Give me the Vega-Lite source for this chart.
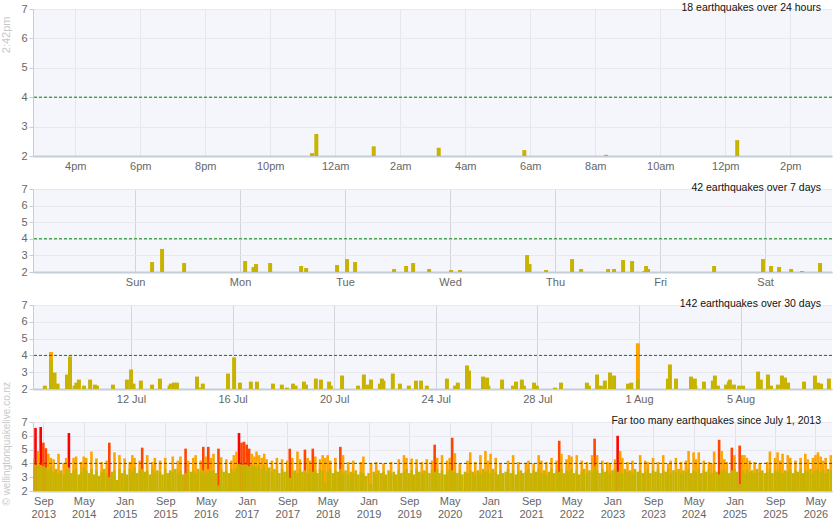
{
  "$schema": "https://vega.github.io/schema/vega-lite/v6.json",
  "background": "white",
  "padding": {"left": 0, "top": 2, "right": 0, "bottom": 0},
  "datasets": {
    "p1": [
      {"t": "2026-08-07T23:17", "m": 2.1},
      {"t": "2026-08-07T23:25", "m": 2.75},
      {"t": "2026-08-08T01:11", "m": 2.33},
      {"t": "2026-08-08T03:11", "m": 2.28},
      {"t": "2026-08-08T05:49", "m": 2.2},
      {"t": "2026-08-08T08:20", "m": 2.04},
      {"t": "2026-08-08T12:22", "m": 2.54}
    ],
    "p2": [
      {"t": "2026-08-02T03:53", "m": 2.6},
      {"t": "2026-08-02T06:10", "m": 3.39},
      {"t": "2026-08-02T11:12", "m": 2.54},
      {"t": "2026-08-03T01:09", "m": 2.66},
      {"t": "2026-08-03T03:39", "m": 2.48},
      {"t": "2026-08-03T03:04", "m": 2.3},
      {"t": "2026-08-03T06:52", "m": 2.54},
      {"t": "2026-08-03T13:57", "m": 2.36},
      {"t": "2026-08-03T15:06", "m": 2.24},
      {"t": "2026-08-03T22:10", "m": 2.42},
      {"t": "2026-08-04T00:27", "m": 2.78},
      {"t": "2026-08-04T02:17", "m": 2.6},
      {"t": "2026-08-04T11:12", "m": 2.18},
      {"t": "2026-08-04T13:57", "m": 2.36},
      {"t": "2026-08-04T15:33", "m": 2.54},
      {"t": "2026-08-04T19:12", "m": 2.18},
      {"t": "2026-08-05T00:14", "m": 2.12},
      {"t": "2026-08-05T02:17", "m": 2.12},
      {"t": "2026-08-05T17:36", "m": 3.02},
      {"t": "2026-08-05T18:10", "m": 2.48},
      {"t": "2026-08-05T21:57", "m": 2.12},
      {"t": "2026-08-06T03:53", "m": 2.78},
      {"t": "2026-08-06T05:57", "m": 2.18},
      {"t": "2026-08-06T12:07", "m": 2.18},
      {"t": "2026-08-06T13:29", "m": 2.18},
      {"t": "2026-08-06T15:33", "m": 2.72},
      {"t": "2026-08-06T17:36", "m": 2.66},
      {"t": "2026-08-06T20:48", "m": 2.36},
      {"t": "2026-08-06T20:27", "m": 2.06},
      {"t": "2026-08-06T21:15", "m": 2.18},
      {"t": "2026-08-07T12:21", "m": 2.36},
      {"t": "2026-08-07T23:32", "m": 2.78},
      {"t": "2026-08-08T01:22", "m": 2.36},
      {"t": "2026-08-08T03:12", "m": 2.3},
      {"t": "2026-08-08T05:57", "m": 2.18},
      {"t": "2026-08-08T08:27", "m": 2.06},
      {"t": "2026-08-08T12:34", "m": 2.54}
    ],
    "p3": [
      {"t": "2026-07-08T14:38", "m": 2.2},
      {"t": "2026-07-08T20:24", "m": 4.2},
      {"t": "2026-07-08T20:24", "m": 3.76},
      {"t": "2026-07-08T23:45", "m": 2.98},
      {"t": "2026-07-09T02:38", "m": 2.32},
      {"t": "2026-07-09T11:31", "m": 2.86},
      {"t": "2026-07-09T14:24", "m": 3.94},
      {"t": "2026-07-09T18:43", "m": 2.2},
      {"t": "2026-07-09T20:24", "m": 2.38},
      {"t": "2026-07-09T22:48", "m": 2.56},
      {"t": "2026-07-10T03:36", "m": 2.2},
      {"t": "2026-07-10T09:22", "m": 2.56},
      {"t": "2026-07-10T13:55", "m": 2.26},
      {"t": "2026-07-10T15:50", "m": 2.2},
      {"t": "2026-07-11T06:58", "m": 2.26},
      {"t": "2026-07-11T20:10", "m": 2.56},
      {"t": "2026-07-12T00:05", "m": 3.16},
      {"t": "2026-07-12T02:24", "m": 2.32},
      {"t": "2026-07-12T09:22", "m": 2.5},
      {"t": "2026-07-12T19:55", "m": 2.26},
      {"t": "2026-07-13T03:22", "m": 2.62},
      {"t": "2026-07-13T12:29", "m": 2.2},
      {"t": "2026-07-13T13:41", "m": 2.32},
      {"t": "2026-07-13T16:34", "m": 2.38},
      {"t": "2026-07-13T19:26", "m": 2.38},
      {"t": "2026-07-14T14:24", "m": 2.74},
      {"t": "2026-07-14T17:17", "m": 2.08},
      {"t": "2026-07-14T19:55", "m": 2.32},
      {"t": "2026-07-15T19:41", "m": 2.92},
      {"t": "2026-07-16T01:26", "m": 3.88},
      {"t": "2026-07-16T06:58", "m": 2.38},
      {"t": "2026-07-16T17:17", "m": 2.44},
      {"t": "2026-07-16T23:02", "m": 2.44},
      {"t": "2026-07-17T14:10", "m": 2.32},
      {"t": "2026-07-17T22:34", "m": 2.26},
      {"t": "2026-07-18T03:22", "m": 2.08},
      {"t": "2026-07-18T09:07", "m": 2.32},
      {"t": "2026-07-18T11:31", "m": 2.2},
      {"t": "2026-07-18T19:26", "m": 2.44},
      {"t": "2026-07-18T21:22", "m": 2.26},
      {"t": "2026-07-19T06:43", "m": 2.62},
      {"t": "2026-07-19T11:31", "m": 2.56},
      {"t": "2026-07-19T19:12", "m": 2.44},
      {"t": "2026-07-19T20:53", "m": 2.2},
      {"t": "2026-07-20T07:26", "m": 2.8},
      {"t": "2026-07-20T22:34", "m": 2.2},
      {"t": "2026-07-21T04:05", "m": 2.86},
      {"t": "2026-07-21T07:55", "m": 2.26},
      {"t": "2026-07-21T10:48", "m": 2.56},
      {"t": "2026-07-21T19:12", "m": 2.32},
      {"t": "2026-07-21T21:07", "m": 2.62},
      {"t": "2026-07-21T22:34", "m": 2.5},
      {"t": "2026-07-22T07:26", "m": 2.92},
      {"t": "2026-07-22T14:10", "m": 2.32},
      {"t": "2026-07-22T22:34", "m": 2.2},
      {"t": "2026-07-23T05:17", "m": 2.5},
      {"t": "2026-07-23T10:05", "m": 2.5},
      {"t": "2026-07-23T15:36", "m": 2.2},
      {"t": "2026-07-24T10:34", "m": 2.62},
      {"t": "2026-07-24T18:14", "m": 2.2},
      {"t": "2026-07-24T20:53", "m": 2.38},
      {"t": "2026-07-25T05:31", "m": 3.4},
      {"t": "2026-07-25T07:26", "m": 3.1},
      {"t": "2026-07-25T20:38", "m": 2.74},
      {"t": "2026-07-26T00:29", "m": 2.68},
      {"t": "2026-07-26T01:41", "m": 2.2},
      {"t": "2026-07-26T14:38", "m": 2.56},
      {"t": "2026-07-27T00:58", "m": 2.2},
      {"t": "2026-07-27T03:50", "m": 2.44},
      {"t": "2026-07-27T09:22", "m": 2.56},
      {"t": "2026-07-27T11:17", "m": 2.2},
      {"t": "2026-07-27T20:53", "m": 2.38},
      {"t": "2026-07-27T23:31", "m": 2.2},
      {"t": "2026-07-28T16:34", "m": 2.08},
      {"t": "2026-07-28T22:19", "m": 2.38},
      {"t": "2026-07-29T22:48", "m": 2.38},
      {"t": "2026-07-30T00:43", "m": 2.2},
      {"t": "2026-07-30T08:24", "m": 2.86},
      {"t": "2026-07-30T12:00", "m": 2.2},
      {"t": "2026-07-30T15:50", "m": 2.5},
      {"t": "2026-07-30T20:38", "m": 2.98},
      {"t": "2026-07-31T00:29", "m": 2.8},
      {"t": "2026-07-31T13:41", "m": 2.32},
      {"t": "2026-07-31T16:48", "m": 2.38},
      {"t": "2026-07-31T23:02", "m": 4.72},
      {"t": "2026-07-31T23:02", "m": 2.56},
      {"t": "2026-08-02T03:22", "m": 2.62},
      {"t": "2026-08-02T05:17", "m": 3.46},
      {"t": "2026-08-02T11:02", "m": 2.62},
      {"t": "2026-08-03T01:12", "m": 2.74},
      {"t": "2026-08-03T04:48", "m": 2.62},
      {"t": "2026-08-03T05:17", "m": 2.2},
      {"t": "2026-08-03T13:26", "m": 2.44},
      {"t": "2026-08-03T21:50", "m": 2.5},
      {"t": "2026-08-03T23:46", "m": 2.8},
      {"t": "2026-08-04T02:38", "m": 2.2},
      {"t": "2026-08-04T10:19", "m": 2.26},
      {"t": "2026-08-04T12:58", "m": 2.44},
      {"t": "2026-08-04T13:55", "m": 2.56},
      {"t": "2026-08-04T17:46", "m": 2.26},
      {"t": "2026-08-04T22:34", "m": 2.2},
      {"t": "2026-08-05T02:24", "m": 2.2},
      {"t": "2026-08-05T16:34", "m": 3.04},
      {"t": "2026-08-05T19:12", "m": 2.56},
      {"t": "2026-08-06T01:55", "m": 2.86},
      {"t": "2026-08-06T04:48", "m": 2.2},
      {"t": "2026-08-06T11:17", "m": 2.26},
      {"t": "2026-08-06T15:07", "m": 2.8},
      {"t": "2026-08-06T18:00", "m": 2.68},
      {"t": "2026-08-06T20:53", "m": 2.38},
      {"t": "2026-08-07T12:00", "m": 2.44},
      {"t": "2026-08-07T22:19", "m": 2.8},
      {"t": "2026-08-08T01:12", "m": 2.38},
      {"t": "2026-08-08T04:05", "m": 2.32},
      {"t": "2026-08-08T11:31", "m": 2.62}
    ],
    "p4": [
      {"t": "2013-07-01", "m": 3.6}, {"t": "2013-07-01", "m": 4.4},
      {"t": "2013-07-16", "m": 3.9}, {"t": "2013-07-16", "m": 6.57},
      {"t": "2013-08-01", "m": 3.9}, {"t": "2013-08-01", "m": 4.9},
      {"t": "2013-08-16", "m": 3.9}, {"t": "2013-08-16", "m": 6.64},
      {"t": "2013-09-01", "m": 3.8}, {"t": "2013-09-01", "m": 5.5},
      {"t": "2013-09-16", "m": 3.7}, {"t": "2013-09-16", "m": 5.1},
      {"t": "2013-10-01", "m": 3.5}, {"t": "2013-10-01", "m": 4.7},
      {"t": "2013-10-16", "m": 3.8}, {"t": "2013-10-16", "m": 4.4},
      {"t": "2013-11-01", "m": 3.4}, {"t": "2013-11-01", "m": 4.3},
      {"t": "2013-11-16", "m": 3.6},
      {"t": "2013-12-01", "m": 3.3}, {"t": "2013-12-01", "m": 4.7},
      {"t": "2013-12-16", "m": 3.5},
      {"t": "2014-01-01", "m": 3.2}, {"t": "2014-01-01", "m": 4.05},
      {"t": "2014-01-16", "m": 3.6}, {"t": "2014-01-16", "m": 4.4},
      {"t": "2014-02-01", "m": 3.7}, {"t": "2014-02-01", "m": 6.2},
      {"t": "2014-02-16", "m": 3.3},
      {"t": "2014-03-01", "m": 3.5}, {"t": "2014-03-01", "m": 4.4},
      {"t": "2014-03-16", "m": 3.6}, {"t": "2014-03-16", "m": 4.5},
      {"t": "2014-04-01", "m": 3.2},
      {"t": "2014-04-16", "m": 3.4}, {"t": "2014-04-16", "m": 4.1},
      {"t": "2014-05-01", "m": 3.7}, {"t": "2014-05-01", "m": 4.5},
      {"t": "2014-05-16", "m": 3.5}, {"t": "2014-05-16", "m": 4.4},
      {"t": "2014-06-01", "m": 3.3},
      {"t": "2014-06-16", "m": 3.6}, {"t": "2014-06-16", "m": 4.86},
      {"t": "2014-07-01", "m": 3.2},
      {"t": "2014-07-16", "m": 3.5}, {"t": "2014-07-16", "m": 4.36},
      {"t": "2014-08-01", "m": 3.1},
      {"t": "2014-08-16", "m": 3.4}, {"t": "2014-08-16", "m": 4.1},
      {"t": "2014-09-01", "m": 3.6},
      {"t": "2014-09-16", "m": 3.3}, {"t": "2014-09-16", "m": 4.2},
      {"t": "2014-10-01", "m": 3.0}, {"t": "2014-10-01", "m": 5.5},
      {"t": "2014-10-16", "m": 3.4},
      {"t": "2014-11-01", "m": 3.5}, {"t": "2014-11-01", "m": 4.8},
      {"t": "2014-11-16", "m": 2.8},
      {"t": "2014-12-01", "m": 3.6}, {"t": "2014-12-01", "m": 4.6},
      {"t": "2014-12-16", "m": 3.3},
      {"t": "2015-01-01", "m": 3.5}, {"t": "2015-01-01", "m": 4.36},
      {"t": "2015-01-16", "m": 3.2},
      {"t": "2015-02-01", "m": 3.6}, {"t": "2015-02-01", "m": 4.1},
      {"t": "2015-02-16", "m": 3.4}, {"t": "2015-02-16", "m": 4.6},
      {"t": "2015-03-01", "m": 3.7}, {"t": "2015-03-01", "m": 4.4},
      {"t": "2015-03-16", "m": 3.3},
      {"t": "2015-04-01", "m": 3.5}, {"t": "2015-04-01", "m": 4.2},
      {"t": "2015-04-16", "m": 3.6}, {"t": "2015-04-16", "m": 5.14},
      {"t": "2015-05-01", "m": 3.4},
      {"t": "2015-05-16", "m": 3.5}, {"t": "2015-05-16", "m": 4.6},
      {"t": "2015-06-01", "m": 3.2},
      {"t": "2015-06-16", "m": 3.6}, {"t": "2015-06-16", "m": 4.1},
      {"t": "2015-07-01", "m": 3.3}, {"t": "2015-07-01", "m": 4.4},
      {"t": "2015-07-16", "m": 3.5},
      {"t": "2015-08-01", "m": 3.4}, {"t": "2015-08-01", "m": 4.2},
      {"t": "2015-08-16", "m": 3.2},
      {"t": "2015-09-01", "m": 3.6}, {"t": "2015-09-01", "m": 4.4},
      {"t": "2015-09-16", "m": 3.3},
      {"t": "2015-10-01", "m": 3.5},
      {"t": "2015-10-16", "m": 3.4}, {"t": "2015-10-16", "m": 4.5},
      {"t": "2015-11-01", "m": 3.6},
      {"t": "2015-11-16", "m": 3.3}, {"t": "2015-11-16", "m": 4.2},
      {"t": "2015-12-01", "m": 3.5}, {"t": "2015-12-01", "m": 4.5},
      {"t": "2015-12-16", "m": 3.2},
      {"t": "2016-01-01", "m": 3.3}, {"t": "2016-01-01", "m": 5.07},
      {"t": "2016-01-16", "m": 3.6}, {"t": "2016-01-16", "m": 4.2},
      {"t": "2016-02-01", "m": 3.4},
      {"t": "2016-02-16", "m": 3.5}, {"t": "2016-02-16", "m": 4.4},
      {"t": "2016-03-01", "m": 3.3}, {"t": "2016-03-01", "m": 4.6},
      {"t": "2016-03-16", "m": 3.6},
      {"t": "2016-04-01", "m": 3.4}, {"t": "2016-04-01", "m": 4.2},
      {"t": "2016-04-16", "m": 3.5}, {"t": "2016-04-16", "m": 5.2},
      {"t": "2016-05-01", "m": 3.3}, {"t": "2016-05-01", "m": 4.5},
      {"t": "2016-05-16", "m": 3.6}, {"t": "2016-05-16", "m": 5.2},
      {"t": "2016-06-01", "m": 3.4}, {"t": "2016-06-01", "m": 4.4},
      {"t": "2016-06-16", "m": 3.5}, {"t": "2016-06-16", "m": 4.7},
      {"t": "2016-07-01", "m": 3.3},
      {"t": "2016-07-16", "m": 2.4}, {"t": "2016-07-16", "m": 5.07},
      {"t": "2016-08-01", "m": 3.6}, {"t": "2016-08-01", "m": 4.45},
      {"t": "2016-08-16", "m": 3.4},
      {"t": "2016-09-01", "m": 3.5}, {"t": "2016-09-01", "m": 4.3},
      {"t": "2016-09-16", "m": 3.3},
      {"t": "2016-10-01", "m": 3.6}, {"t": "2016-10-01", "m": 4.2},
      {"t": "2016-10-16", "m": 3.4}, {"t": "2016-10-16", "m": 4.6},
      {"t": "2016-11-01", "m": 3.7}, {"t": "2016-11-01", "m": 4.86},
      {"t": "2016-11-16", "m": 3.95}, {"t": "2016-11-16", "m": 6.2},
      {"t": "2016-12-01", "m": 3.9}, {"t": "2016-12-01", "m": 5.5},
      {"t": "2016-12-16", "m": 3.9}, {"t": "2016-12-16", "m": 5.57},
      {"t": "2017-01-01", "m": 3.9}, {"t": "2017-01-01", "m": 5.36},
      {"t": "2017-01-16", "m": 3.8}, {"t": "2017-01-16", "m": 5.07},
      {"t": "2017-02-01", "m": 3.9}, {"t": "2017-02-01", "m": 4.7},
      {"t": "2017-02-16", "m": 3.8}, {"t": "2017-02-16", "m": 4.5},
      {"t": "2017-03-01", "m": 3.7}, {"t": "2017-03-01", "m": 4.86},
      {"t": "2017-03-16", "m": 3.9}, {"t": "2017-03-16", "m": 4.6},
      {"t": "2017-04-01", "m": 3.6}, {"t": "2017-04-01", "m": 4.4},
      {"t": "2017-04-16", "m": 3.8}, {"t": "2017-04-16", "m": 4.7},
      {"t": "2017-05-01", "m": 3.5}, {"t": "2017-05-01", "m": 4.3},
      {"t": "2017-05-16", "m": 3.7},
      {"t": "2017-06-01", "m": 3.4}, {"t": "2017-06-01", "m": 4.2},
      {"t": "2017-06-16", "m": 3.6},
      {"t": "2017-07-01", "m": 3.5}, {"t": "2017-07-01", "m": 4.4},
      {"t": "2017-07-16", "m": 3.3},
      {"t": "2017-08-01", "m": 3.6}, {"t": "2017-08-01", "m": 4.3},
      {"t": "2017-08-16", "m": 3.4},
      {"t": "2017-09-01", "m": 3.5}, {"t": "2017-09-01", "m": 4.2},
      {"t": "2017-09-16", "m": 2.95}, {"t": "2017-09-16", "m": 5.07},
      {"t": "2017-10-01", "m": 3.4}, {"t": "2017-10-01", "m": 4.4},
      {"t": "2017-10-16", "m": 3.5},
      {"t": "2017-11-01", "m": 3.3}, {"t": "2017-11-01", "m": 4.86},
      {"t": "2017-11-16", "m": 3.6}, {"t": "2017-11-16", "m": 4.3},
      {"t": "2017-12-01", "m": 3.4},
      {"t": "2017-12-16", "m": 3.5}, {"t": "2017-12-16", "m": 5.0},
      {"t": "2018-01-01", "m": 3.3}, {"t": "2018-01-01", "m": 4.4},
      {"t": "2018-01-16", "m": 3.6}, {"t": "2018-01-16", "m": 4.2},
      {"t": "2018-02-01", "m": 3.4}, {"t": "2018-02-01", "m": 5.07},
      {"t": "2018-02-16", "m": 3.5}, {"t": "2018-02-16", "m": 4.5},
      {"t": "2018-03-01", "m": 3.3},
      {"t": "2018-03-16", "m": 3.6}, {"t": "2018-03-16", "m": 4.3},
      {"t": "2018-04-01", "m": 3.5}, {"t": "2018-04-01", "m": 4.6},
      {"t": "2018-04-16", "m": 2.6}, {"t": "2018-04-16", "m": 4.4},
      {"t": "2018-05-01", "m": 3.4}, {"t": "2018-05-01", "m": 4.6},
      {"t": "2018-05-16", "m": 3.6}, {"t": "2018-05-16", "m": 4.2},
      {"t": "2018-06-01", "m": 3.3},
      {"t": "2018-06-16", "m": 3.5}, {"t": "2018-06-16", "m": 4.4},
      {"t": "2018-07-01", "m": 3.4},
      {"t": "2018-07-16", "m": 3.6}, {"t": "2018-07-16", "m": 5.2},
      {"t": "2018-08-01", "m": 3.3}, {"t": "2018-08-01", "m": 4.6},
      {"t": "2018-08-16", "m": 3.5},
      {"t": "2018-09-01", "m": 3.2}, {"t": "2018-09-01", "m": 4.1},
      {"t": "2018-09-16", "m": 3.4},
      {"t": "2018-10-01", "m": 3.3}, {"t": "2018-10-01", "m": 4.2},
      {"t": "2018-10-16", "m": 3.5},
      {"t": "2018-11-01", "m": 3.2},
      {"t": "2018-11-16", "m": 3.4}, {"t": "2018-11-16", "m": 4.1},
      {"t": "2018-12-01", "m": 3.3}, {"t": "2018-12-01", "m": 4.5},
      {"t": "2018-12-16", "m": 3.1},
      {"t": "2019-01-01", "m": 3.3},
      {"t": "2019-01-16", "m": 2.5}, {"t": "2019-01-16", "m": 4.0},
      {"t": "2019-02-01", "m": 3.4},
      {"t": "2019-02-16", "m": 3.2}, {"t": "2019-02-16", "m": 4.1},
      {"t": "2019-03-01", "m": 3.5},
      {"t": "2019-03-16", "m": 3.3},
      {"t": "2019-04-01", "m": 3.4}, {"t": "2019-04-01", "m": 4.0},
      {"t": "2019-04-16", "m": 3.2},
      {"t": "2019-05-01", "m": 3.5},
      {"t": "2019-05-16", "m": 3.3}, {"t": "2019-05-16", "m": 4.1},
      {"t": "2019-06-01", "m": 3.4},
      {"t": "2019-06-16", "m": 3.2},
      {"t": "2019-07-01", "m": 3.5}, {"t": "2019-07-01", "m": 4.3},
      {"t": "2019-07-16", "m": 3.3},
      {"t": "2019-08-01", "m": 3.4}, {"t": "2019-08-01", "m": 4.6},
      {"t": "2019-08-16", "m": 3.6}, {"t": "2019-08-16", "m": 4.4},
      {"t": "2019-09-01", "m": 3.3},
      {"t": "2019-09-16", "m": 3.5}, {"t": "2019-09-16", "m": 4.35},
      {"t": "2019-10-01", "m": 3.2},
      {"t": "2019-10-16", "m": 3.6}, {"t": "2019-10-16", "m": 4.3},
      {"t": "2019-11-01", "m": 3.4},
      {"t": "2019-11-16", "m": 3.3}, {"t": "2019-11-16", "m": 4.1},
      {"t": "2019-12-01", "m": 3.5},
      {"t": "2019-12-16", "m": 3.4}, {"t": "2019-12-16", "m": 4.3},
      {"t": "2020-01-01", "m": 3.3},
      {"t": "2020-01-16", "m": 3.5}, {"t": "2020-01-16", "m": 4.2},
      {"t": "2020-02-01", "m": 3.4}, {"t": "2020-02-01", "m": 5.36},
      {"t": "2020-02-16", "m": 3.6}, {"t": "2020-02-16", "m": 4.4},
      {"t": "2020-03-01", "m": 3.3},
      {"t": "2020-03-16", "m": 3.5}, {"t": "2020-03-16", "m": 4.6},
      {"t": "2020-04-01", "m": 3.2},
      {"t": "2020-04-16", "m": 3.4}, {"t": "2020-04-16", "m": 4.2},
      {"t": "2020-05-01", "m": 3.6}, {"t": "2020-05-01", "m": 4.4},
      {"t": "2020-05-16", "m": 3.5}, {"t": "2020-05-16", "m": 5.86},
      {"t": "2020-06-01", "m": 3.4}, {"t": "2020-06-01", "m": 4.74},
      {"t": "2020-06-16", "m": 3.3},
      {"t": "2020-07-01", "m": 3.5}, {"t": "2020-07-01", "m": 4.0},
      {"t": "2020-07-16", "m": 3.2},
      {"t": "2020-08-01", "m": 3.4},
      {"t": "2020-08-16", "m": 3.3}, {"t": "2020-08-16", "m": 4.2},
      {"t": "2020-09-01", "m": 3.5}, {"t": "2020-09-01", "m": 4.8},
      {"t": "2020-09-16", "m": 3.4},
      {"t": "2020-10-01", "m": 3.2}, {"t": "2020-10-01", "m": 4.1},
      {"t": "2020-10-16", "m": 3.5},
      {"t": "2020-11-01", "m": 3.3}, {"t": "2020-11-01", "m": 4.6},
      {"t": "2020-11-16", "m": 3.6},
      {"t": "2020-12-01", "m": 3.4}, {"t": "2020-12-01", "m": 4.9},
      {"t": "2020-12-16", "m": 3.5}, {"t": "2020-12-16", "m": 4.2},
      {"t": "2021-01-01", "m": 3.3}, {"t": "2021-01-01", "m": 4.7},
      {"t": "2021-01-16", "m": 3.6},
      {"t": "2021-02-01", "m": 3.4}, {"t": "2021-02-01", "m": 4.4},
      {"t": "2021-02-16", "m": 3.2},
      {"t": "2021-03-01", "m": 3.5}, {"t": "2021-03-01", "m": 4.0},
      {"t": "2021-03-16", "m": 3.3},
      {"t": "2021-04-01", "m": 3.4},
      {"t": "2021-04-16", "m": 3.6}, {"t": "2021-04-16", "m": 4.2},
      {"t": "2021-05-01", "m": 3.3},
      {"t": "2021-05-16", "m": 3.5}, {"t": "2021-05-16", "m": 4.6},
      {"t": "2021-06-01", "m": 3.2},
      {"t": "2021-06-16", "m": 3.4}, {"t": "2021-06-16", "m": 4.1},
      {"t": "2021-07-01", "m": 3.5},
      {"t": "2021-07-16", "m": 3.3},
      {"t": "2021-08-01", "m": 3.4}, {"t": "2021-08-01", "m": 4.05},
      {"t": "2021-08-16", "m": 3.6}, {"t": "2021-08-16", "m": 4.2},
      {"t": "2021-09-01", "m": 3.3},
      {"t": "2021-09-16", "m": 3.5}, {"t": "2021-09-16", "m": 4.0},
      {"t": "2021-10-01", "m": 3.4},
      {"t": "2021-10-16", "m": 3.6}, {"t": "2021-10-16", "m": 4.6},
      {"t": "2021-11-01", "m": 3.3}, {"t": "2021-11-01", "m": 4.2},
      {"t": "2021-11-16", "m": 3.5},
      {"t": "2021-12-01", "m": 3.2}, {"t": "2021-12-01", "m": 4.1},
      {"t": "2021-12-16", "m": 3.4},
      {"t": "2022-01-01", "m": 3.6}, {"t": "2022-01-01", "m": 4.4},
      {"t": "2022-01-16", "m": 3.3},
      {"t": "2022-02-01", "m": 3.5}, {"t": "2022-02-01", "m": 4.2},
      {"t": "2022-02-16", "m": 3.4}, {"t": "2022-02-16", "m": 5.64},
      {"t": "2022-03-01", "m": 3.6}, {"t": "2022-03-01", "m": 4.7},
      {"t": "2022-03-16", "m": 3.3},
      {"t": "2022-04-01", "m": 3.5}, {"t": "2022-04-01", "m": 4.3},
      {"t": "2022-04-16", "m": 3.4}, {"t": "2022-04-16", "m": 4.6},
      {"t": "2022-05-01", "m": 3.6}, {"t": "2022-05-01", "m": 4.5},
      {"t": "2022-05-16", "m": 3.3},
      {"t": "2022-06-01", "m": 3.5}, {"t": "2022-06-01", "m": 4.6},
      {"t": "2022-06-16", "m": 3.2},
      {"t": "2022-07-01", "m": 3.4}, {"t": "2022-07-01", "m": 4.2},
      {"t": "2022-07-16", "m": 3.6},
      {"t": "2022-08-01", "m": 3.3}, {"t": "2022-08-01", "m": 4.1},
      {"t": "2022-08-16", "m": 3.5},
      {"t": "2022-09-01", "m": 3.4}, {"t": "2022-09-01", "m": 4.6},
      {"t": "2022-09-16", "m": 3.8}, {"t": "2022-09-16", "m": 5.79},
      {"t": "2022-10-01", "m": 3.5}, {"t": "2022-10-01", "m": 4.6},
      {"t": "2022-10-16", "m": 3.3},
      {"t": "2022-11-01", "m": 3.6}, {"t": "2022-11-01", "m": 4.2},
      {"t": "2022-11-16", "m": 3.4},
      {"t": "2022-12-01", "m": 3.5}, {"t": "2022-12-01", "m": 4.1},
      {"t": "2022-12-16", "m": 3.3}, {"t": "2022-12-16", "m": 4.0},
      {"t": "2023-01-01", "m": 3.5},
      {"t": "2023-01-16", "m": 3.6}, {"t": "2023-01-16", "m": 4.3},
      {"t": "2023-02-01", "m": 3.4}, {"t": "2023-02-01", "m": 6.0},
      {"t": "2023-02-16", "m": 3.5}, {"t": "2023-02-16", "m": 4.9},
      {"t": "2023-03-01", "m": 3.3}, {"t": "2023-03-01", "m": 4.4},
      {"t": "2023-03-16", "m": 3.6},
      {"t": "2023-04-01", "m": 3.4}, {"t": "2023-04-01", "m": 4.1},
      {"t": "2023-04-16", "m": 3.5},
      {"t": "2023-05-01", "m": 3.3}, {"t": "2023-05-01", "m": 4.2},
      {"t": "2023-05-16", "m": 3.6},
      {"t": "2023-06-01", "m": 3.4},
      {"t": "2023-06-16", "m": 3.5}, {"t": "2023-06-16", "m": 4.6},
      {"t": "2023-07-01", "m": 3.3},
      {"t": "2023-07-16", "m": 3.4}, {"t": "2023-07-16", "m": 4.2},
      {"t": "2023-08-01", "m": 3.6}, {"t": "2023-08-01", "m": 4.1},
      {"t": "2023-08-16", "m": 3.3},
      {"t": "2023-09-01", "m": 3.5}, {"t": "2023-09-01", "m": 4.4},
      {"t": "2023-09-16", "m": 3.4},
      {"t": "2023-10-01", "m": 3.6}, {"t": "2023-10-01", "m": 4.1},
      {"t": "2023-10-16", "m": 3.3},
      {"t": "2023-11-01", "m": 3.5}, {"t": "2023-11-01", "m": 4.6},
      {"t": "2023-11-16", "m": 3.4},
      {"t": "2023-12-01", "m": 3.6}, {"t": "2023-12-01", "m": 4.0},
      {"t": "2023-12-16", "m": 3.3}, {"t": "2023-12-16", "m": 4.2},
      {"t": "2024-01-01", "m": 3.5},
      {"t": "2024-01-16", "m": 3.4}, {"t": "2024-01-16", "m": 4.4},
      {"t": "2024-02-01", "m": 3.6},
      {"t": "2024-02-16", "m": 3.3}, {"t": "2024-02-16", "m": 4.1},
      {"t": "2024-03-01", "m": 3.5},
      {"t": "2024-03-16", "m": 3.4}, {"t": "2024-03-16", "m": 4.2},
      {"t": "2024-04-01", "m": 3.6}, {"t": "2024-04-01", "m": 4.9},
      {"t": "2024-04-16", "m": 3.3},
      {"t": "2024-05-01", "m": 3.5}, {"t": "2024-05-01", "m": 4.8},
      {"t": "2024-05-16", "m": 3.4}, {"t": "2024-05-16", "m": 4.3},
      {"t": "2024-06-01", "m": 3.6}, {"t": "2024-06-01", "m": 4.8},
      {"t": "2024-06-16", "m": 3.3},
      {"t": "2024-07-01", "m": 3.5}, {"t": "2024-07-01", "m": 4.2},
      {"t": "2024-07-16", "m": 3.4},
      {"t": "2024-08-01", "m": 3.6}, {"t": "2024-08-01", "m": 4.1},
      {"t": "2024-08-16", "m": 3.3}, {"t": "2024-08-16", "m": 4.0},
      {"t": "2024-09-01", "m": 3.5}, {"t": "2024-09-01", "m": 4.86},
      {"t": "2024-09-16", "m": 3.4},
      {"t": "2024-10-01", "m": 3.2}, {"t": "2024-10-01", "m": 5.71},
      {"t": "2024-10-16", "m": 3.5}, {"t": "2024-10-16", "m": 4.9},
      {"t": "2024-11-01", "m": 3.6}, {"t": "2024-11-01", "m": 4.3},
      {"t": "2024-11-16", "m": 3.4}, {"t": "2024-11-16", "m": 4.1},
      {"t": "2024-12-01", "m": 3.3},
      {"t": "2024-12-16", "m": 3.5}, {"t": "2024-12-16", "m": 5.14},
      {"t": "2025-01-01", "m": 3.6}, {"t": "2025-01-01", "m": 4.6},
      {"t": "2025-01-16", "m": 3.4},
      {"t": "2025-02-01", "m": 2.5}, {"t": "2025-02-01", "m": 5.29},
      {"t": "2025-02-16", "m": 3.5}, {"t": "2025-02-16", "m": 4.6},
      {"t": "2025-03-01", "m": 3.3}, {"t": "2025-03-01", "m": 4.6},
      {"t": "2025-03-16", "m": 3.6}, {"t": "2025-03-16", "m": 4.4},
      {"t": "2025-04-01", "m": 3.4}, {"t": "2025-04-01", "m": 4.2},
      {"t": "2025-04-16", "m": 3.5},
      {"t": "2025-05-01", "m": 3.3}, {"t": "2025-05-01", "m": 4.1},
      {"t": "2025-05-16", "m": 3.6},
      {"t": "2025-06-01", "m": 3.4}, {"t": "2025-06-01", "m": 4.0},
      {"t": "2025-06-16", "m": 3.5},
      {"t": "2025-07-01", "m": 3.3},
      {"t": "2025-07-16", "m": 3.4}, {"t": "2025-07-16", "m": 4.1},
      {"t": "2025-08-01", "m": 3.6}, {"t": "2025-08-01", "m": 4.86},
      {"t": "2025-08-16", "m": 3.3},
      {"t": "2025-09-01", "m": 3.5}, {"t": "2025-09-01", "m": 4.4},
      {"t": "2025-09-16", "m": 3.4}, {"t": "2025-09-16", "m": 4.8},
      {"t": "2025-10-01", "m": 3.6}, {"t": "2025-10-01", "m": 4.2},
      {"t": "2025-10-16", "m": 3.3}, {"t": "2025-10-16", "m": 4.7},
      {"t": "2025-11-01", "m": 3.5},
      {"t": "2025-11-16", "m": 3.4}, {"t": "2025-11-16", "m": 4.6},
      {"t": "2025-12-01", "m": 3.6}, {"t": "2025-12-01", "m": 4.4},
      {"t": "2025-12-16", "m": 3.3},
      {"t": "2026-01-01", "m": 3.5}, {"t": "2026-01-01", "m": 4.2},
      {"t": "2026-01-16", "m": 3.4},
      {"t": "2026-02-01", "m": 3.6}, {"t": "2026-02-01", "m": 4.4},
      {"t": "2026-02-16", "m": 3.3},
      {"t": "2026-03-01", "m": 3.5}, {"t": "2026-03-01", "m": 4.7},
      {"t": "2026-03-16", "m": 3.4}, {"t": "2026-03-16", "m": 4.3},
      {"t": "2026-04-01", "m": 3.6},
      {"t": "2026-04-16", "m": 3.3}, {"t": "2026-04-16", "m": 4.4},
      {"t": "2026-05-01", "m": 3.5}, {"t": "2026-05-01", "m": 4.6},
      {"t": "2026-05-16", "m": 3.6}, {"t": "2026-05-16", "m": 4.8},
      {"t": "2026-06-01", "m": 3.4}, {"t": "2026-06-01", "m": 4.5},
      {"t": "2026-06-16", "m": 3.5}, {"t": "2026-06-16", "m": 4.2},
      {"t": "2026-07-01", "m": 3.3}, {"t": "2026-07-01", "m": 4.4},
      {"t": "2026-07-16", "m": 3.6},
      {"t": "2026-08-01", "m": 3.5}, {"t": "2026-08-01", "m": 4.6}
    ]
  },
  "spacing": 33,
  "bounds": "flush",
  "resolve": {"scale": {"x": "independent"}},
  "vconcat": [
    {
      "width": 799,
      "height": 147,
      "title": "18 earthquakes over 24 hours",
      "layer": [
        {
          "data": {"name": "p1"},
          "mark": {"type": "bar", "width": 4, "color": "#c8b400", "clip": true},
          "encoding": {
            "x": {
              "field": "t", "type": "temporal",
              "scale": {"padding": 0, "domain": [{"year": 2026, "month": 8, "date": 7, "hours": 14, "minutes": 42}, {"year": 2026, "month": 8, "date": 8, "hours": 15, "minutes": 17}]},
              "axis": {
                "title": null, "gridColor": "#e6e6ee",
                "labelExpr": "lower(timeFormat(datum.value, '%-I%p'))",
                "values": [
                  {"year": 2026, "month": 8, "date": 7, "hours": 16}, {"year": 2026, "month": 8, "date": 7, "hours": 18},
                  {"year": 2026, "month": 8, "date": 7, "hours": 20}, {"year": 2026, "month": 8, "date": 7, "hours": 22},
                  {"year": 2026, "month": 8, "date": 8, "hours": 0}, {"year": 2026, "month": 8, "date": 8, "hours": 2},
                  {"year": 2026, "month": 8, "date": 8, "hours": 4}, {"year": 2026, "month": 8, "date": 8, "hours": 6},
                  {"year": 2026, "month": 8, "date": 8, "hours": 8}, {"year": 2026, "month": 8, "date": 8, "hours": 10},
                  {"year": 2026, "month": 8, "date": 8, "hours": 12}, {"year": 2026, "month": 8, "date": 8, "hours": 14}
                ]
              }
            },
            "y": {
              "field": "m", "type": "quantitative",
              "scale": {"domain": [2, 7], "nice": false, "zero": false},
              "axis": {"values": [2, 3, 4, 5, 6, 7], "tickCount": 6, "labelOverlap": false, "title": "2:42pm", "titleAnchor": "end", "titleX": -22, "titleY": 7, "titleFontSize": 11}
            }
          }
        },
        {
          "data": {"values": [{"v": 4}]},
          "mark": {"type": "rule", "color": "#008000", "strokeDash": [3, 2]},
          "encoding": {"y": {"field": "v", "type": "quantitative", "axis": {"values": [2, 3, 4, 5, 6, 7], "tickCount": 6, "labelOverlap": false, "title": "2:42pm", "titleAnchor": "end", "titleX": -22, "titleY": 7, "titleFontSize": 11}}}
        }
      ]
    },
    {
      "width": 799,
      "height": 83,
      "title": "42 earthquakes over 7 days",
      "layer": [
        {
          "data": {"name": "p2"},
          "mark": {"type": "bar", "width": 4, "color": "#c8b400", "clip": true},
          "encoding": {
            "x": {
              "field": "t", "type": "temporal",
              "scale": {"padding": 0, "domain": [{"year": 2026, "month": 8, "date": 1, "hours": 0, "minutes": 40}, {"year": 2026, "month": 8, "date": 8, "hours": 15, "minutes": 18}]},
              "axis": {
                "title": null, "format": "%a", "gridColor": "#d4d4dc",
                "values": [
                  {"year": 2026, "month": 8, "date": 2}, {"year": 2026, "month": 8, "date": 3},
                  {"year": 2026, "month": 8, "date": 4}, {"year": 2026, "month": 8, "date": 5},
                  {"year": 2026, "month": 8, "date": 6}, {"year": 2026, "month": 8, "date": 7},
                  {"year": 2026, "month": 8, "date": 8}
                ]
              }
            },
            "y": {
              "field": "m", "type": "quantitative",
              "scale": {"domain": [2, 7], "nice": false, "zero": false},
              "axis": {"values": [2, 3, 4, 5, 6, 7], "tickCount": 6, "labelOverlap": false, "title": null}
            }
          }
        },
        {
          "data": {"values": [{"v": 4}]},
          "mark": {"type": "rule", "color": "#008000", "strokeDash": [3, 2]},
          "encoding": {"y": {"field": "v", "type": "quantitative", "axis": {"values": [2, 3, 4, 5, 6, 7], "tickCount": 6, "labelOverlap": false, "title": null}}}
        }
      ]
    },
    {
      "width": 799,
      "height": 84,
      "title": "142 earthquakes over 30 days",
      "layer": [
        {
          "data": {"name": "p3"},
          "transform": [{"filter": "datum.m >= 4"}],
          "mark": {"type": "bar", "width": 4, "color": "#ffa500", "clip": true},
          "encoding": {
            "x": {
              "field": "t", "type": "temporal",
              "scale": {"padding": 0, "domain": [{"year": 2026, "month": 7, "date": 8, "hours": 3, "minutes": 25}, {"year": 2026, "month": 8, "date": 8, "hours": 14, "minutes": 25}]},
              "axis": {
                "title": null, "format": "%-d %b", "gridColor": "#d4d4dc",
                "values": [
                  {"year": 2026, "month": 7, "date": 12}, {"year": 2026, "month": 7, "date": 16},
                  {"year": 2026, "month": 7, "date": 20}, {"year": 2026, "month": 7, "date": 24},
                  {"year": 2026, "month": 7, "date": 28}, {"year": 2026, "month": 8, "date": 1},
                  {"year": 2026, "month": 8, "date": 5}
                ]
              }
            },
            "y": {
              "field": "m", "type": "quantitative",
              "scale": {"domain": [2, 7], "nice": false, "zero": false},
              "axis": {"values": [2, 3, 4, 5, 6, 7], "tickCount": 6, "labelOverlap": false, "title": "© wellingtonquakelive.co.nz", "titleAnchor": "start", "titleX": -22, "titleY": 200, "titleFontSize": 10}
            }
          }
        },
        {
          "data": {"name": "p3"},
          "transform": [{"filter": "datum.m < 4"}],
          "mark": {"type": "bar", "width": 4, "color": "#c8b400", "clip": true},
          "encoding": {
            "x": {"field": "t", "type": "temporal"},
            "y": {"field": "m", "type": "quantitative", "axis": {"values": [2, 3, 4, 5, 6, 7], "tickCount": 6, "labelOverlap": false, "title": "© wellingtonquakelive.co.nz", "titleAnchor": "start", "titleX": -22, "titleY": 200, "titleFontSize": 10}}
          }
        },
        {
          "data": {"values": [{"v": 4}]},
          "mark": {"type": "rule", "color": "#008000", "strokeDash": [3, 2]},
          "encoding": {"y": {"field": "v", "type": "quantitative", "axis": {"values": [2, 3, 4, 5, 6, 7], "tickCount": 6, "labelOverlap": false, "title": "© wellingtonquakelive.co.nz", "titleAnchor": "start", "titleX": -22, "titleY": 200, "titleFontSize": 10}}}
        }
      ]
    },
    {
      "width": 799,
      "height": 69,
      "title": "Far too many earthquakes since July 1, 2013",
      "layer": [
        {
          "data": {"name": "p4"},
          "transform": [{"filter": "datum.m >= 6"}],
          "mark": {"type": "bar", "width": 2.6, "color": "#ff0000", "clip": true},
          "encoding": {
            "x": {
              "field": "t", "type": "temporal",
              "scale": {"padding": 0, "domain": [{"year": 2013, "month": 7, "date": 1}, {"year": 2026, "month": 8, "date": 8}]},
              "axis": {
                "title": null, "gridColor": "#e2e2ea", "labelLineHeight": 13,
                "labelExpr": "[timeFormat(datum.value, '%b'), timeFormat(datum.value, '%Y')]",
                "values": [
                  {"year": 2013, "month": 9, "date": 1}, {"year": 2014, "month": 5, "date": 1},
                  {"year": 2015, "month": 1, "date": 1}, {"year": 2015, "month": 9, "date": 1},
                  {"year": 2016, "month": 5, "date": 1}, {"year": 2017, "month": 1, "date": 1},
                  {"year": 2017, "month": 9, "date": 1}, {"year": 2018, "month": 5, "date": 1},
                  {"year": 2019, "month": 1, "date": 1}, {"year": 2019, "month": 9, "date": 1},
                  {"year": 2020, "month": 5, "date": 1}, {"year": 2021, "month": 1, "date": 1},
                  {"year": 2021, "month": 9, "date": 1}, {"year": 2022, "month": 5, "date": 1},
                  {"year": 2023, "month": 1, "date": 1}, {"year": 2023, "month": 9, "date": 1},
                  {"year": 2024, "month": 5, "date": 1}, {"year": 2025, "month": 1, "date": 1},
                  {"year": 2025, "month": 9, "date": 1}, {"year": 2026, "month": 5, "date": 1}
                ]
              }
            },
            "y": {
              "field": "m", "type": "quantitative",
              "scale": {"domain": [2, 7], "nice": false, "zero": false},
              "axis": {"values": [2, 3, 4, 5, 6, 7], "tickCount": 6, "labelOverlap": false, "title": null}
            }
          }
        },
        {
          "data": {"name": "p4"},
          "transform": [{"filter": "datum.m >= 5 && datum.m < 6"}],
          "mark": {"type": "bar", "width": 2.6, "color": "#ff4500", "clip": true},
          "encoding": {
            "x": {"field": "t", "type": "temporal"},
            "y": {"field": "m", "type": "quantitative", "axis": {"values": [2, 3, 4, 5, 6, 7], "tickCount": 6, "labelOverlap": false, "title": null}}
          }
        },
        {
          "data": {"name": "p4"},
          "transform": [{"filter": "datum.m >= 4 && datum.m < 5"}],
          "mark": {"type": "bar", "width": 2.6, "color": "#ffa500", "clip": true},
          "encoding": {
            "x": {"field": "t", "type": "temporal"},
            "y": {"field": "m", "type": "quantitative", "axis": {"values": [2, 3, 4, 5, 6, 7], "tickCount": 6, "labelOverlap": false, "title": null}}
          }
        },
        {
          "data": {"name": "p4"},
          "transform": [{"filter": "datum.m < 4"}],
          "mark": {"type": "bar", "width": 2.6, "color": "#c8b400", "clip": true},
          "encoding": {
            "x": {"field": "t", "type": "temporal"},
            "y": {"field": "m", "type": "quantitative", "axis": {"values": [2, 3, 4, 5, 6, 7], "tickCount": 6, "labelOverlap": false, "title": null}}
          }
        },
        {
          "data": {"values": [{"v": 4}]},
          "mark": {"type": "rule", "color": "#008000", "strokeDash": [3, 2]},
          "encoding": {"y": {"field": "v", "type": "quantitative", "axis": {"values": [2, 3, 4, 5, 6, 7], "tickCount": 6, "labelOverlap": false, "title": null}}}
        }
      ]
    }
  ],
  "config": {
    "font": "Liberation Sans",
    "view": {"stroke": null, "fill": "#f5f5fc"},
    "scale": {"continuousPadding": 0},
    "axis": {
      "labelColor": "#666666",
      "labelFontSize": 11,
      "domainColor": "#c4ced8",
      "tickColor": "#c4ced8",
      "gridColor": "#e8e8ee",
      "titleColor": "#c8c8c8",
      "titleFontWeight": "normal"
    },
    "axisX": {"ticks": false, "domainWidth": 2, "labelPadding": 4},
    "axisY": {"tickSize": 4, "labelPadding": 2, "labelOverlap": false, "tickCount": 6},
    "title": {"anchor": "end", "frame": "group", "fontSize": 10.5, "fontWeight": "normal", "color": "#111111", "offset": -10, "dx": -11}
  }
}
